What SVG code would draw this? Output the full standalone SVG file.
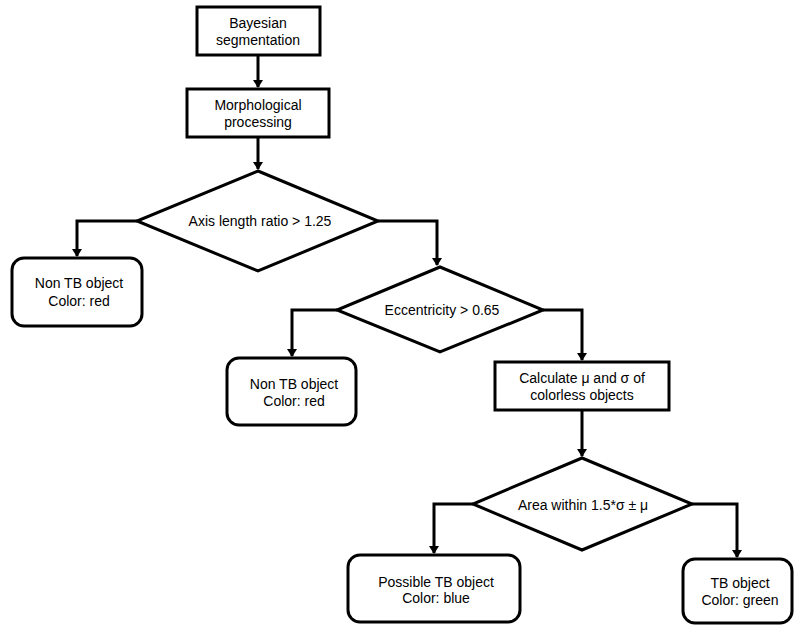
<svg xmlns="http://www.w3.org/2000/svg" width="800" height="632" viewBox="0 0 800 632">
<style>
.b{fill:#fff;stroke:#000;stroke-width:3}
.c{fill:none;stroke:#000;stroke-width:3}
text{font-family:"Liberation Sans",Arial,sans-serif;font-size:14px;fill:#000;text-anchor:middle}
</style>
<defs>
<marker id="ah" markerWidth="8" markerHeight="10" refX="7" refY="5" orient="auto" markerUnits="userSpaceOnUse" viewBox="0 0 8 10">
<path d="M0,0 L8,5 L0,10 Z" fill="#000"/>
</marker>
</defs>
<rect width="800" height="632" fill="#fff"/>
<g id="connectors">
<path class="c" d="M258,55 V87" marker-end="url(#ah)"/>
<path class="c" d="M258,137 V169" marker-end="url(#ah)"/>
<path class="c" d="M137,221 H77 V256" marker-end="url(#ah)"/>
<path class="c" d="M378,221 H437 V265" marker-end="url(#ah)"/>
<path class="c" d="M337,310 H292 V356" marker-end="url(#ah)"/>
<path class="c" d="M543,310 H582 V360" marker-end="url(#ah)"/>
<path class="c" d="M582,410 V456" marker-end="url(#ah)"/>
<path class="c" d="M473,504 H434 V553" marker-end="url(#ah)"/>
<path class="c" d="M692,504 H737 V557" marker-end="url(#ah)"/>
</g>
<g id="bayesian">
<rect class="b" x="197" y="7" width="123" height="48"/>
<text x="258" y="28">Bayesian</text>
<text x="258" y="45">segmentation</text>
</g>
<g id="morph">
<rect class="b" x="187" y="89" width="142" height="48"/>
<text x="258" y="110">Morphological</text>
<text x="258" y="127">processing</text>
</g>
<g id="axis">
<polygon class="b" points="258,171 378,221 258,271 137,221"/>
<text x="260" y="226">Axis length ratio &gt; 1.25</text>
</g>
<g id="nontb1">
<rect class="b" x="12" y="258" width="130" height="68" rx="12"/>
<text x="79" y="288">Non TB object</text>
<text x="79" y="306">Color: red</text>
</g>
<g id="ecc">
<polygon class="b" points="440,267 543,310 440,352 337,310"/>
<text x="442" y="315">Eccentricity &gt; 0.65</text>
</g>
<g id="nontb2">
<rect class="b" x="227" y="358" width="129" height="67" rx="12"/>
<text x="294" y="389">Non TB object</text>
<text x="294" y="406">Color: red</text>
</g>
<g id="calc">
<rect class="b" x="495" y="362" width="174" height="48"/>
<text x="582" y="383">Calculate μ and σ of</text>
<text x="582" y="400">colorless objects</text>
</g>
<g id="area">
<polygon class="b" points="582,458 692,504 582,550 473,504"/>
<text x="583" y="510">Area within 1.5*σ ± μ</text>
</g>
<g id="possible">
<rect class="b" x="348" y="555" width="172" height="67" rx="12"/>
<text x="436" y="587">Possible TB object</text>
<text x="436" y="603">Color: blue</text>
</g>
<g id="tb">
<rect class="b" x="683" y="559" width="109" height="64" rx="12"/>
<text x="740" y="588">TB object</text>
<text x="740" y="605">Color: green</text>
</g>
</svg>
